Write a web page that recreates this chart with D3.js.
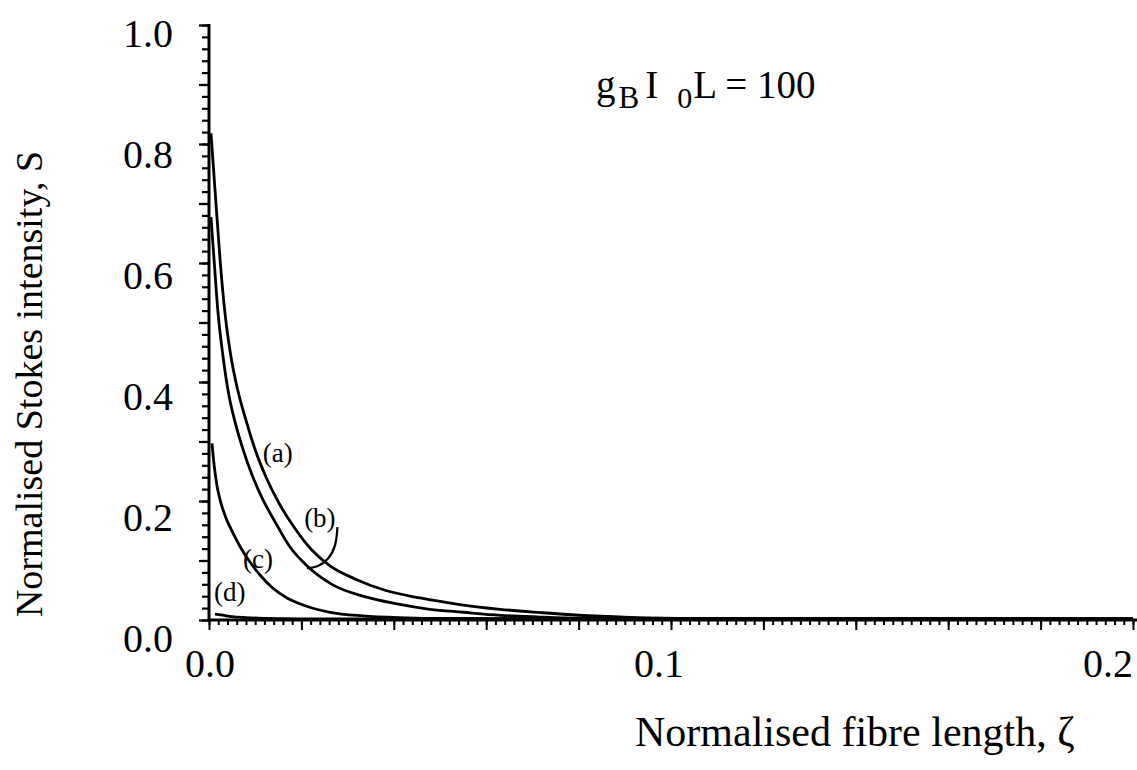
<!DOCTYPE html>
<html><head><meta charset="utf-8">
<script src="https://cdn.jsdelivr.net/npm/d3@7"></script>
<style>
body{margin:0;background:#fff}
svg{display:block}
text{font-family:"Liberation Serif","Times New Roman",serif;fill:#000}
</style>
</head><body>
<svg id="chart" width="1137" height="770"></svg>
<script>
// ---- data ----
const xTickLabels = [0.0, 0.1, 0.2];
const yTickLabels = [0.0, 0.2, 0.4, 0.6, 0.8, 1.0];
const curveA = [[0.00043,0.818],[0.0013,0.723],[0.0024,0.605],[0.0035,0.513],[0.0047,0.445],[0.0062,0.387],[0.0080,0.336],[0.0100,0.286],[0.0124,0.239],[0.0151,0.197],[0.0185,0.155],[0.0222,0.118],[0.0262,0.091],[0.0316,0.069],[0.0381,0.050],[0.0457,0.037],[0.0543,0.026],[0.0630,0.018],[0.0717,0.0125],[0.0800,0.0080],[0.0910,0.0045],[0.1050,0.0025],[0.1500,0.0020],[0.2000,0.0020]];
const curveB = [[0.00043,0.677],[0.0011,0.605],[0.0019,0.521],[0.0030,0.445],[0.0043,0.378],[0.0058,0.328],[0.0074,0.286],[0.0093,0.244],[0.0115,0.205],[0.0143,0.165],[0.0175,0.123],[0.0212,0.091],[0.0268,0.059],[0.0333,0.040],[0.0407,0.027],[0.0478,0.018],[0.0550,0.013],[0.0630,0.0079],[0.0717,0.0050],[0.0800,0.0030],[0.0950,0.0020],[0.2000,0.0020]];
const curveC = [[0.00065,0.297],[0.0011,0.261],[0.0017,0.227],[0.0024,0.202],[0.0037,0.171],[0.0052,0.146],[0.0069,0.121],[0.0089,0.097],[0.0110,0.076],[0.0136,0.055],[0.0169,0.037],[0.0208,0.024],[0.0262,0.013],[0.0333,0.007],[0.0410,0.0040],[0.0520,0.0025],[0.2000,0.0020]];
const curveD = [[0.0013,0.010],[0.0030,0.0080],[0.0050,0.0056],[0.0080,0.0040],[0.0120,0.0028],[0.0200,0.0020],[0.2000,0.0020]];
const curveLabels = [["(a)",0.0149,0.282],["(b)",0.0240,0.173],["(c)",0.0106,0.104],["(d)",0.0045,0.047]];
const pointerB = [[0.0278,0.156],[0.0275,0.124],[0.0258,0.101],[0.0236,0.089],[0.0212,0.087]];

const W = 1137, H = 770;
const svg = d3.select("#chart");
const x = d3.scaleLinear().domain([0, 0.2]).range([209, 1133]);
const y = d3.scaleLinear().domain([0, 1]).range([620, 25]);
// label placement scales (labels in the scan sit slightly off the ticks)
const xLab = d3.scaleLinear().domain([0, 0.2]).range([210, 1108]);
const yLab = d3.scaleLinear().domain([0, 1]).range([638, 33]);

// ---- axes ----
const yMinor = d3.range(0, 51).map(i => i * 0.02);
const yMajor = d3.range(0, 11).map(i => i * 0.1);
const xMinor = d3.range(0, 101).map(i => i * 0.002);
const xMajor = d3.range(0, 11).map(i => i * 0.02);

function styleAxis(g, w) {
  g.select(".domain").remove();
  g.selectAll("line").attr("stroke", "#000").attr("stroke-width", w);
  g.selectAll("text").remove();
}
svg.append("g").attr("transform", `translate(${x(0)},0)`)
  .call(d3.axisLeft(y).tickValues(yMinor).tickSize(7).tickSizeOuter(0).tickFormat(""))
  .call(g => styleAxis(g, 2.2));
svg.append("g").attr("transform", `translate(${x(0)},0)`)
  .call(d3.axisLeft(y).tickValues(yMajor).tickSize(10).tickSizeOuter(0).tickFormat(""))
  .call(g => styleAxis(g, 2.2));
svg.append("g").attr("transform", `translate(0,${y(0)})`)
  .call(d3.axisBottom(x).tickValues(xMinor).tickSize(5).tickSizeOuter(0).tickFormat(""))
  .call(g => styleAxis(g, 2));
svg.append("g").attr("transform", `translate(0,${y(0)})`)
  .call(d3.axisBottom(x).tickValues(xMajor).tickSize(10).tickSizeOuter(0).tickFormat(""))
  .call(g => styleAxis(g, 2));

// axis lines
svg.append("line").attr("x1", x(0)).attr("x2", x(0)).attr("y1", y(1) - 1).attr("y2", y(0))
  .attr("stroke", "#000").attr("stroke-width", 3);
svg.append("line").attr("x1", x(0) - 1.5).attr("x2", W).attr("y1", y(0)).attr("y2", y(0))
  .attr("stroke", "#000").attr("stroke-width", 3);

// tick labels
svg.selectAll(".ylab").data(yTickLabels).join("text")
  .attr("class", "ylab")
  .attr("x", 173).attr("y", d => yLab(d))
  .attr("dy", "0.35em")
  .attr("text-anchor", "end")
  .style("font-size", "40px")
  .text(d => d3.format(".1f")(d));
svg.selectAll(".xlab").data(xTickLabels).join("text")
  .attr("class", "xlab")
  .attr("x", d => xLab(d)).attr("y", 677)
  .attr("text-anchor", "middle")
  .style("font-size", "40px")
  .text(d => d3.format(".1f")(d));

// axis titles
svg.append("text")
  .attr("transform", "translate(42,384) rotate(-90)")
  .attr("text-anchor", "middle")
  .style("font-size", "38px")
  .text("Normalised Stokes intensity, S");
svg.append("text")
  .attr("x", 635).attr("y", 746)
  .style("font-size", "42px")
  .text("Normalised fibre length, \u03B6");

// annotation
const ann = svg.append("text").attr("x", 596).attr("y", 98).style("font-size", "39px");
ann.append("tspan").text("g");
ann.append("tspan").attr("dy", 10).attr("dx", 3).style("font-size", "31px").text("B");
ann.append("tspan").attr("dy", -10).attr("dx", 6).text("I");
ann.append("tspan").attr("dy", 10).attr("dx", 19).style("font-size", "30px").text("0");
ann.append("tspan").attr("dy", -10).attr("dx", 1).text("L = 100");

// ---- curves ----
const line = d3.line().x(d => x(d[0])).y(d => y(d[1])).curve(d3.curveMonotoneX);
[curveA, curveB, curveC, curveD].forEach(c => {
  svg.append("path").datum(c).attr("d", line)
    .attr("fill", "none").attr("stroke", "#000").attr("stroke-width", 2.8)
    .attr("stroke-linejoin", "round");
});
const pline = d3.line().x(d => x(d[0])).y(d => y(d[1])).curve(d3.curveBasis);
svg.append("path").datum(pointerB).attr("d", pline)
  .attr("fill", "none").attr("stroke", "#000").attr("stroke-width", 2.2);

svg.selectAll(".clab").data(curveLabels).join("text")
  .attr("class", "clab")
  .attr("x", d => x(d[1])).attr("y", d => y(d[2]))
  .attr("dy", "0.35em")
  .attr("text-anchor", "middle")
  .style("font-size", "27px")
  .text(d => d[0]);
</script>
</body></html>
